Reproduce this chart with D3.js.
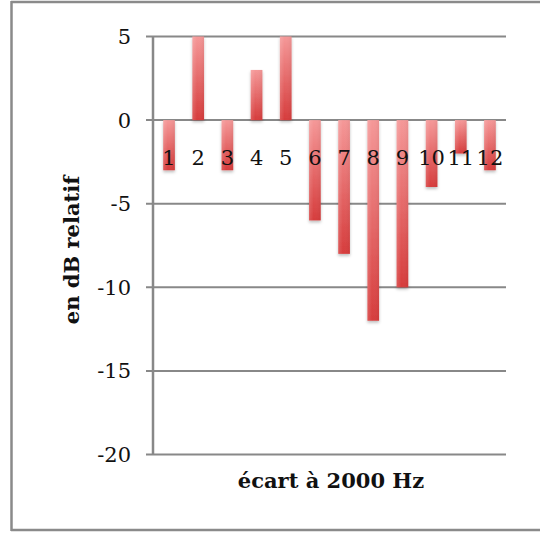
<!DOCTYPE html>
<html><head><meta charset="utf-8">
<script src="https://cdn.jsdelivr.net/npm/d3@7"></script>
<style>body{margin:0;background:#fff}svg{display:block}</style>
</head><body>
<script>
const categories = ["1","2","3","4","5","6","7","8","9","10","11","12"];
const values = [-3, 5, -3, 3, 5, -6, -8, -12, -10, -4, -2, -3];
const yTicks = [5, 0, -5, -10, -15, -20];
const xTitle = "écart à 2000 Hz";
const yTitle = "en dB relatif";

const W = 540, H = 533;
const FONT = "'DejaVu Serif', serif";
const svg = d3.select("body").append("svg").attr("width", W).attr("height", H);
const defs = svg.append("defs");
const g = defs.append("linearGradient").attr("id","barGrad").attr("x1",0).attr("y1",0).attr("x2",0).attr("y2",1);
g.append("stop").attr("offset","0%").attr("stop-color","#f59898");
g.append("stop").attr("offset","100%").attr("stop-color","#d63c3c");
const gh = defs.append("linearGradient").attr("id","barSheen").attr("x1",0).attr("y1",0).attr("x2",1).attr("y2",0);
gh.append("stop").attr("offset","0%").attr("stop-color","#fff").attr("stop-opacity",0.15);
gh.append("stop").attr("offset","40%").attr("stop-color","#fff").attr("stop-opacity",0.0);
gh.append("stop").attr("offset","100%").attr("stop-color","#000").attr("stop-opacity",0.05);
const f = defs.append("filter").attr("id","shadow").attr("x","-50%").attr("y","-10%").attr("width","200%").attr("height","130%");
f.append("feDropShadow").attr("dx",0).attr("dy",2).attr("stdDeviation",1.5).attr("flood-color","#000").attr("flood-opacity",0.25);

// outer frame (no right border)
const frameC = "#8a8a8a";
svg.append("line").attr("x1",11).attr("x2",W).attr("y1",2).attr("y2",2).attr("stroke",frameC).attr("stroke-width",2.5);
svg.append("line").attr("x1",11).attr("x2",W).attr("y1",530).attr("y2",530).attr("stroke",frameC).attr("stroke-width",2.5);
svg.append("line").attr("x1",11.5).attr("x2",11.5).attr("y1",1).attr("y2",531).attr("stroke",frameC).attr("stroke-width",2.5);

const x0 = 153, x1 = 506;
const y = d3.scaleLinear().domain([-20, 5]).range([454.5, 36.5]);
const x = d3.scaleBand().domain(categories).range([x0, x1]).paddingInner(0.6).paddingOuter(0.35);

// gridlines
svg.append("g").selectAll("line").data(yTicks).join("line")
  .attr("x1", 146).attr("x2", x1).attr("y1", d=>y(d)).attr("y2", d=>y(d))
  .attr("stroke", "#888").attr("stroke-width", 2);

// y axis line
svg.append("line").attr("x1",x0).attr("x2",x0).attr("y1",y(5)).attr("y2",y(-20)).attr("stroke","#888").attr("stroke-width",2.5);

// y tick labels
svg.append("g").selectAll("text").data(yTicks).join("text")
  .attr("x", 131).attr("y", d=>y(d)).attr("dy","0.36em").attr("text-anchor","end")
  .attr("font-family",FONT).attr("font-size",21).attr("fill","#111")
  .text(d=>d);

// bars
const bars = svg.append("g");
bars.selectAll("rect.b").data(values).join("rect").attr("class","b")
  .attr("x",(d,i)=>x(categories[i])).attr("width",x.bandwidth())
  .attr("y",d=>y(Math.max(0,d))).attr("height",d=>Math.abs(y(d)-y(0)))
  .attr("fill","url(#barGrad)").attr("filter","url(#shadow)");
bars.selectAll("rect.s").data(values).join("rect").attr("class","s")
  .attr("x",(d,i)=>x(categories[i])).attr("width",x.bandwidth())
  .attr("y",d=>y(Math.max(0,d))).attr("height",d=>Math.abs(y(d)-y(0)))
  .attr("fill","url(#barSheen)");

// category labels
svg.append("g").selectAll("text").data(categories).join("text")
  .attr("x", d=>x(d)+x.bandwidth()/2).attr("y", 165).attr("text-anchor","middle")
  .attr("font-family",FONT).attr("font-size",21).attr("fill","#111")
  .text(d=>d);

// axis titles
svg.append("text").attr("x",331).attr("y",488).attr("text-anchor","middle")
  .attr("font-family",FONT).attr("font-weight","bold").attr("font-size",21).attr("fill","#111")
  .text(xTitle);
svg.append("text").attr("transform","translate(79,250) rotate(-90)").attr("text-anchor","middle")
  .attr("font-family",FONT).attr("font-weight","bold").attr("font-size",21).attr("fill","#111")
  .text(yTitle);
</script>
</body></html>
